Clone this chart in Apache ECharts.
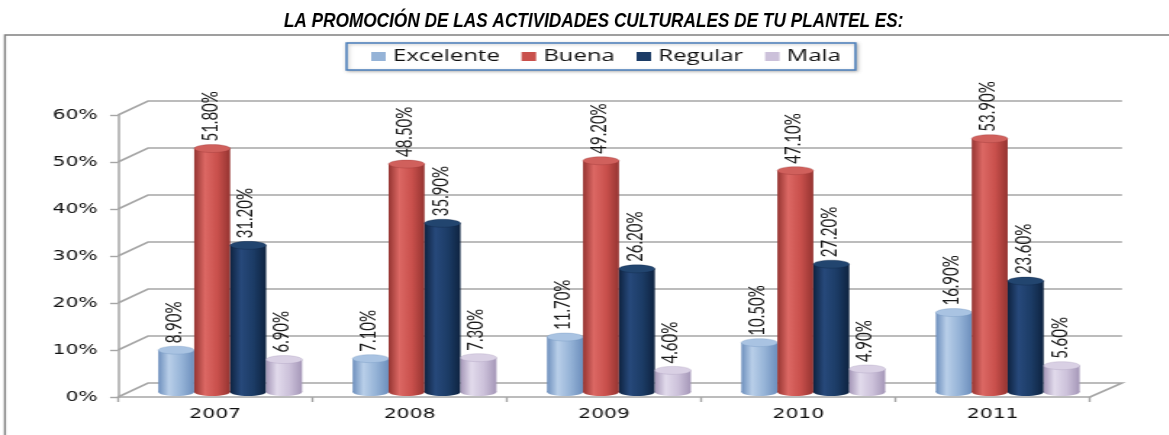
<!DOCTYPE html>
<html>
<head>
<meta charset="utf-8">
<script src="https://cdn.jsdelivr.net/npm/echarts@6/dist/echarts.min.js"></script>
<style>
  html, body { margin: 0; padding: 0; background: #fff; overflow: hidden; }
  #wrap { position: relative; width: 1169px; height: 435px; overflow: hidden; }
  /* the plot is laid out narrow and widened horizontally */
  #plot { position: absolute; left: 0; top: 0; width: 806px; height: 435px;
          transform: scaleX(1.45); transform-origin: 0 0; }
  /* the heading uses a condensed face */
  #head { position: absolute; left: 9px; top: 0; width: 1426px; height: 36px;
          transform: scaleX(0.82); transform-origin: 0 0; }
</style>
</head>
<body>
<div id="wrap"><div id="plot"></div><div id="head"></div></div>
<script>
// ---- data ----
const years = ['2007', '2008', '2009', '2010', '2011'];
const excelente = [8.9, 7.1, 11.7, 10.5, 16.9];
const buena = [51.8, 48.5, 49.2, 47.1, 53.9];
const regular = [31.2, 35.9, 26.2, 27.2, 23.6];
const mala = [6.9, 7.3, 4.6, 4.9, 5.6];
const seriesNames = ['Excelente', 'Buena', 'Regular', 'Mala'];
const yTicks = [0, 10, 20, 30, 40, 50, 60];
const titleText = 'LA PROMOCIÓN DE LAS ACTIVIDADES CULTURALES DE TU PLANTEL ES:';

// ---- styling ----
const palettes = [
  { base: '#95b3d7', light: '#b9cfe9', edge: '#6d8fbd', top: '#a9c3e2' },
  { base: '#c9504c', light: '#dc6864', edge: '#953431', top: '#d0605c' },
  { base: '#1c3c66', light: '#27497b', edge: '#0e2340', top: '#22456f' },
  { base: '#ccc1da', light: '#e2dbec', edge: '#a597b8', top: '#d9d0e4' }
];
const WALL_DX = 20.7, WALL_DY = 14, WALL_DX_RIGHT = 22.1;
const BAR_DX = 10.3, BAR_DY = 5;
const GROUP_FRAC = 0.74;
const GRID_COLOR = '#a6a6a6';

// perspective wall: a slanted segment from the front axis to the back wall,
// then the horizontal gridline along the back wall
function renderWall(params, api) {
  const v = api.value(1);
  const cs = params.coordSys;
  const y = api.coord([0, v])[1];
  const x0 = cs.x, x1 = cs.x + cs.width;
  const pts = [[x0, y], [x0 + WALL_DX, y - WALL_DY], [x1 + WALL_DX_RIGHT, y - WALL_DY]];
  if (v === 0) pts.push([x1, y]);
  return {
    type: 'polyline',
    shape: { points: pts },
    style: { stroke: GRID_COLOR, lineWidth: 1.6, fill: null }
  };
}

// shaded cylinder with its value written vertically above it
function cylinder(sIdx) {
  const pal = palettes[sIdx];
  return function (params, api) {
    const cat = api.value(0), v = api.value(1);
    const base = api.coord([cat, 0]);
    const top = api.coord([cat, v]);
    const band = api.size([1, 0])[0];
    const gw = band * GROUP_FRAC, bw = gw / 4;
    const x = base[0] - gw / 2 + sIdx * bw + BAR_DX;
    const yB = base[1] - BAR_DY, yT = top[1] - BAR_DY;
    const ry = 4;
    const grad = () => new echarts.graphic.LinearGradient(0, 0, 1, 0, [
      { offset: 0, color: pal.edge },
      { offset: 0.3, color: pal.light },
      { offset: 0.65, color: pal.base },
      { offset: 1, color: pal.edge }
    ]);
    return {
      type: 'group',
      children: [
        { type: 'ellipse', shape: { cx: x + bw / 2, cy: yB, rx: bw / 2, ry: ry }, style: { fill: grad() } },
        { type: 'rect', shape: { x: x, y: yT, width: bw, height: yB - yT }, style: { fill: grad() } },
        { type: 'ellipse', shape: { cx: x + bw / 2, cy: yT, rx: bw / 2, ry: ry },
          style: { fill: pal.top, stroke: pal.edge, lineWidth: 0.5, strokeOpacity: 0.6 } },
        { type: 'text', x: x + bw / 2 - 1.5, y: yT - 7, rotation: Math.PI / 2,
          style: { text: v.toFixed(2) + '%', fill: '#1a1a1a', fontSize: 15, fontFamily: 'Lato',
                   align: 'left', verticalAlign: 'middle' } }
      ]
    };
  };
}

const values = [excelente, buena, regular, mala];
const barSeries = seriesNames.map((name, s) => ({
  name: name,
  type: 'custom',
  z: 3,
  itemStyle: { color: palettes[s].base },
  encode: { x: 0, y: 1 },
  renderItem: cylinder(s),
  data: years.map((yr, i) => [i, values[s][i]])
}));

const plot = echarts.init(document.getElementById('plot'), null, { renderer: 'canvas' });
plot.setOption({
  backgroundColor: '#fff',
  animation: false,
  graphic: [{
    type: 'rect', silent: true, z: -10,
    shape: { x: 3.4, y: 35, width: 900, height: 500 },
    style: { fill: null, stroke: '#808080', lineWidth: 1.4 }
  }],
  legend: {
    data: seriesNames,
    left: 239, top: 43,
    padding: [5, 10, 5, 17],
    itemWidth: 10, itemHeight: 9, itemGap: 15,
    icon: 'rect',
    backgroundColor: '#fff',
    borderColor: '#4a7ebb', borderWidth: 1.5,
    shadowBlur: 3, shadowColor: 'rgba(0,0,0,0.25)', shadowOffsetX: 1, shadowOffsetY: 1,
    textStyle: { fontFamily: 'Open Sans', fontSize: 16.5, color: '#111' }
  },
  grid: { left: 81.4, right: 54.3, top: 115, bottom: 38, containLabel: false },
  xAxis: {
    type: 'category',
    data: years,
    axisLine: { lineStyle: { color: GRID_COLOR, width: 1.6 } },
    axisTick: { show: true, length: 5, lineStyle: { color: GRID_COLOR, width: 1.4 } },
    axisLabel: { fontFamily: 'DejaVu Sans', fontSize: 14, color: '#111', margin: 10 },
    splitLine: { show: false }
  },
  yAxis: {
    type: 'value',
    min: 0, max: 60, interval: 10,
    axisLine: { show: true, lineStyle: { color: GRID_COLOR, width: 1.5 } },
    axisTick: { show: true, length: 5.5, lineStyle: { color: GRID_COLOR, width: 1.4 } },
    axisLabel: { formatter: '{value}%', fontFamily: 'DejaVu Sans', fontSize: 14, color: '#111', margin: 14 },
    splitLine: { show: false }
  },
  series: [{
    type: 'custom',
    name: 'wall',
    silent: true,
    z: 1,
    encode: { x: 0, y: 1 },
    renderItem: renderWall,
    data: yTicks.map(v => [0, v])
  }].concat(barSeries)
});

const head = echarts.init(document.getElementById('head'), null, { renderer: 'canvas' });
head.setOption({
  animation: false,
  title: {
    text: titleText,
    left: 'center', top: 11, padding: 0,
    textStyle: { fontFamily: 'Liberation Sans', fontStyle: 'italic', fontWeight: 'bold',
                 fontSize: 21, color: '#000' }
  }
});
</script>
</body>
</html>
